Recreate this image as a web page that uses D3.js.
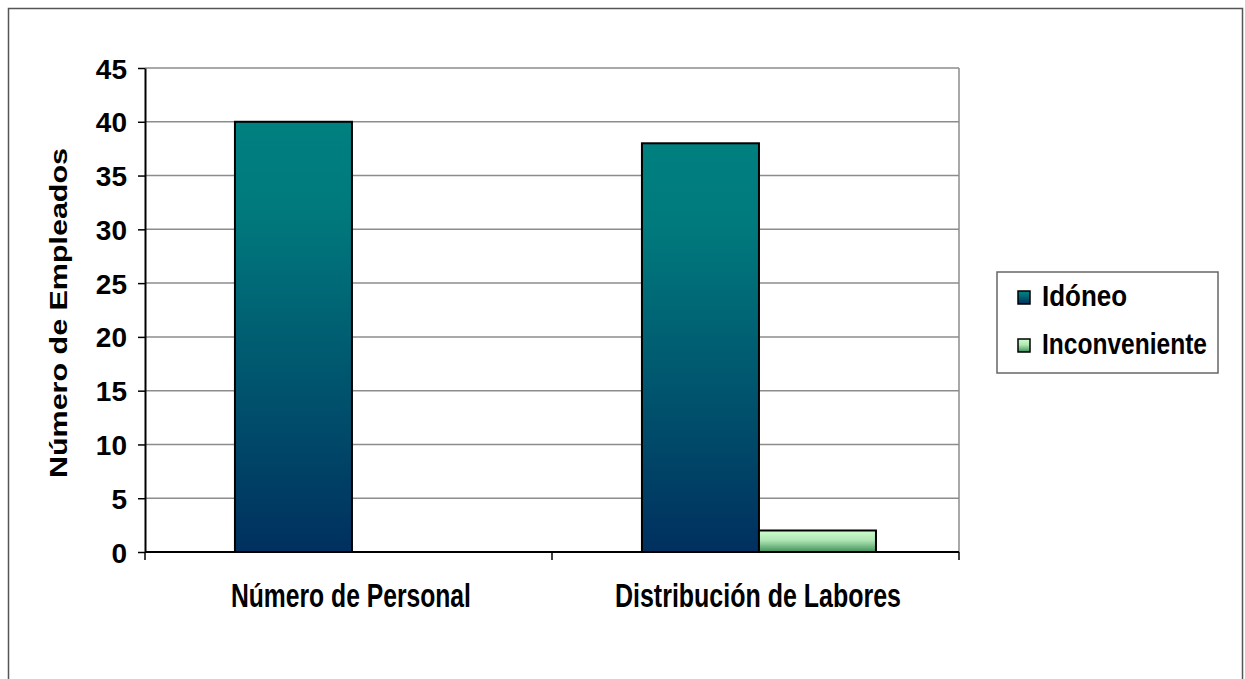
<!DOCTYPE html>
<html>
<head>
<meta charset="utf-8">
<script src="https://cdn.jsdelivr.net/npm/d3@7"></script>
<style>
  body { margin: 0; background: #fff; }
  text { font-family: "Liberation Sans", Arial, sans-serif; font-weight: bold; fill: #000; }
</style>
</head>
<body>
<div class="vis"></div>
<script>
// data
var categories = ["Número de Personal", "Distribución de Labores"];
var seriesNames = ["Idóneo", "Inconveniente"];
var idoneo = [40, 38];
var inconveniente = [0, 2];
var yTicks = [0, 5, 10, 15, 20, 25, 30, 35, 40, 45];

var W = 1245, H = 679;
var plot = { left: 145, right: 959, top: 68, bottom: 552 };

var svg = d3.select("div.vis").append("svg")
            .attr("width", W)
            .attr("height", H);

// gradients
var defs = svg.append("defs");
var g1 = defs.append("linearGradient").attr("id", "gIdoneo")
             .attr("x1", 0).attr("y1", 0).attr("x2", 0).attr("y2", 1);
g1.append("stop").attr("offset", "0%").attr("stop-color", "#008080");
g1.append("stop").attr("offset", "20%").attr("stop-color", "#007a7d");
g1.append("stop").attr("offset", "100%").attr("stop-color", "#00305f");
var g2 = defs.append("linearGradient").attr("id", "gIncon")
             .attr("x1", 0).attr("y1", 0).attr("x2", 0).attr("y2", 1);
g2.append("stop").attr("offset", "0%").attr("stop-color", "#ccffcc");
g2.append("stop").attr("offset", "45%").attr("stop-color", "#b0e6b4");
g2.append("stop").attr("offset", "100%").attr("stop-color", "#3f915a");
var fills = ["url(#gIdoneo)", "url(#gIncon)"];

// outer chart border
svg.append("path")
   .attr("d", "M8.5," + H + " V8.5 H1242.5 V" + H)
   .attr("fill", "none")
   .attr("stroke", "#555")
   .attr("stroke-width", 1.5);

// scales
var y = d3.scaleLinear().domain([0, 45]).range([plot.bottom, plot.top]);
var x0 = d3.scaleBand().domain(categories)
           .range([plot.left, plot.right])
           .paddingInner(0.425).paddingOuter(0.2125)
           .align(0.52);
var x1 = d3.scaleBand().domain(seriesNames).range([0, x0.bandwidth()]);

// gridlines
svg.append("g").selectAll("line")
   .data(yTicks.slice(1))
   .enter().append("line")
   .attr("x1", plot.left).attr("x2", plot.right)
   .attr("y1", function(d) { return y(d); })
   .attr("y2", function(d) { return y(d); })
   .attr("stroke", "#8c8c8c")
   .attr("stroke-width", 1.5);

// right border of plot area
svg.append("line")
   .attr("x1", plot.right).attr("x2", plot.right)
   .attr("y1", plot.top).attr("y2", plot.bottom)
   .attr("stroke", "#8c8c8c").attr("stroke-width", 1.5);

// bars
var rows = categories.map(function(c, i) {
    return { cat: c, values: [idoneo[i], inconveniente[i]] };
});
var groups = svg.append("g").selectAll("g")
    .data(rows).enter().append("g")
    .attr("transform", function(d) { return "translate(" + x0(d.cat) + ",0)"; });

groups.selectAll("rect")
    .data(function(d) { return d.values.map(function(v, j) { return { name: seriesNames[j], value: v, j: j }; }); })
    .enter().append("rect")
    .filter(function(d) { return d.value > 0; })
    .attr("x", function(d) { return x1(d.name); })
    .attr("width", x1.bandwidth())
    .attr("y", function(d) { return y(d.value); })
    .attr("height", function(d) { return y(0) - y(d.value); })
    .attr("fill", function(d) { return fills[d.j]; })
    .attr("stroke", "#000")
    .attr("stroke-width", 2);

// y axis
var yAxis = d3.axisLeft(y).tickValues(yTicks).tickSize(7).tickSizeOuter(0);
var ya = svg.append("g").attr("transform", "translate(" + plot.left + ",0)").call(yAxis);
ya.select(".domain").attr("stroke", "#000").attr("stroke-width", 2);
ya.selectAll(".tick line").attr("stroke", "#000").attr("stroke-width", 1.5);
ya.selectAll(".tick text")
  .attr("x", -18)
  .attr("dy", "0.36em")
  .style("font-family", "'Liberation Sans', Arial, sans-serif")
  .style("font-weight", "bold")
  .style("font-size", "28px")
  .attr("fill", "#000");

// x axis
var xa = svg.append("g").attr("transform", "translate(0," + plot.bottom + ")");
xa.append("line").attr("x1", plot.left).attr("x2", plot.right)
  .attr("stroke", "#000").attr("stroke-width", 2);
var sep = [plot.left, (plot.left + plot.right) / 2, plot.right];
xa.selectAll("line.sep").data(sep).enter().append("line")
  .attr("class", "sep")
  .attr("x1", function(d) { return d; }).attr("x2", function(d) { return d; })
  .attr("y1", 0).attr("y2", 8)
  .attr("stroke", "#000").attr("stroke-width", 1.5);

var catWidths = [240, 286];
svg.append("g").selectAll("text")
   .data(categories).enter().append("text")
   .attr("x", function(d) { return x0(d) + x0.bandwidth() / 2 - 1; })
   .attr("y", 607)
   .attr("text-anchor", "middle")
   .attr("textLength", function(d, i) { return catWidths[i]; })
   .attr("lengthAdjust", "spacingAndGlyphs")
   .style("font-size", "33px")
   .text(function(d) { return d; });

// y title
svg.append("text")
   .attr("transform", "translate(67,313) rotate(-90)")
   .attr("text-anchor", "middle")
   .attr("textLength", 330)
   .attr("lengthAdjust", "spacingAndGlyphs")
   .style("font-size", "24px")
   .text("Número de Empleados");

// legend
var legend = svg.append("g");
legend.append("rect")
   .attr("x", 997).attr("y", 272).attr("width", 221).attr("height", 101)
   .attr("fill", "#fff").attr("stroke", "#666").attr("stroke-width", 1.5);
var legW = [85, 165];
var item = legend.selectAll("g.item").data(seriesNames).enter().append("g")
   .attr("class", "item")
   .attr("transform", function(d, i) { return "translate(1018," + (291 + i * 48) + ")"; });
item.append("rect")
   .attr("width", 12).attr("height", 13)
   .attr("fill", function(d, i) { return fills[i]; })
   .attr("stroke", "#000").attr("stroke-width", 1.5);
item.append("text")
   .attr("x", 24).attr("y", 15)
   .attr("textLength", function(d, i) { return legW[i]; })
   .attr("lengthAdjust", "spacingAndGlyphs")
   .style("font-size", "29px")
   .text(function(d) { return d; });
</script>
</body>
</html>
